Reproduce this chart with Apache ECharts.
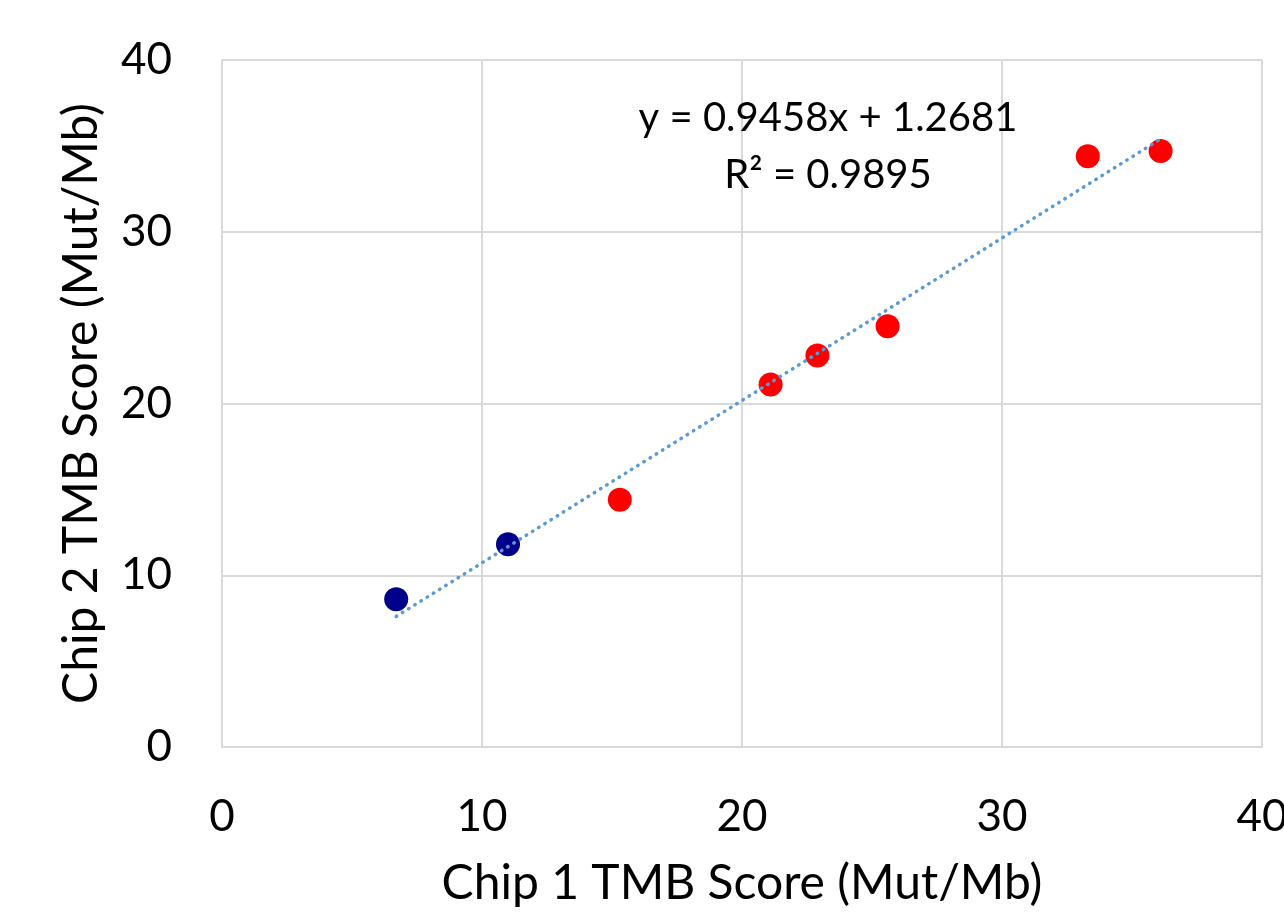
<!DOCTYPE html>
<html>
<head>
<meta charset="utf-8">
<script src="https://cdn.jsdelivr.net/npm/echarts@6/dist/echarts.min.js"></script>
<style>
  html, body { margin: 0; padding: 0; background: #fff; }
  #chart { width: 1284px; height: 915px; }
</style>
</head>
<body>
<div id="chart"></div>
<script>
// data
var bluePoints = [[6.7, 8.6], [11.0, 11.8]];
var redPoints = [[15.3, 14.4], [21.1, 21.1], [22.9, 22.8], [25.6, 24.5], [33.3, 34.4], [36.1, 34.7]];
var trendPoints = [[6.7, 7.6], [36.1, 35.4]];
var xTicks = [0, 10, 20, 30, 40];
var yTicks = [0, 10, 20, 30, 40];

var fontFam = 'Lato';
var myChart = echarts.init(document.getElementById('chart'));
var option = {
    animation: false,
    textStyle: { fontFamily: fontFam },
    grid: { left: 222, right: 22, top: 60, bottom: 168, outerBoundsMode: 'none', containLabel: false },
    graphic: [{
        type: 'text',
        x: 828, y: 147,
        z: 10,
        style: {
            text: 'y = 0.9458x + 1.2681\nR² = 0.9895',
            textAlign: 'center',
            textVerticalAlign: 'middle',
            font: '40px ' + fontFam,
            lineHeight: 57,
            fill: '#000'
        }
    }],
    xAxis: {
        type: 'value', min: 0, max: 40, interval: 10,
        name: 'Chip 1 TMB Score (Mut/Mb)',
        nameLocation: 'middle', nameGap: 113,
        nameTextStyle: { fontSize: 48, color: '#000' },
        axisLine: { show: true, lineStyle: { color: '#d9d9d9', width: 2 } },
        axisTick: { show: false },
        axisLabel: { fontSize: 44, color: '#000', margin: 48,
            formatter: function (v) { return xTicks.indexOf(v) >= 0 ? v : ''; } },
        splitLine: { show: true, lineStyle: { color: '#d9d9d9', width: 2 } }
    },
    yAxis: {
        type: 'value', min: 0, max: 40, interval: 10,
        name: 'Chip 2 TMB Score (Mut/Mb)',
        nameLocation: 'middle', nameGap: 116,
        nameTextStyle: { fontSize: 48, color: '#000' },
        axisLine: { show: true, lineStyle: { color: '#d9d9d9', width: 2 } },
        axisTick: { show: false },
        axisLabel: { fontSize: 44, color: '#000', margin: 50,
            formatter: function (v) { return yTicks.indexOf(v) >= 0 ? v : ''; } },
        splitLine: { show: true, lineStyle: { color: '#d9d9d9', width: 2 } }
    },
    series: [{
        type: 'line',
        data: trendPoints,
        symbol: 'none',
        z: 3,
        lineStyle: { color: '#5b9bd5', width: 3.5, type: [0.5, 6.8], cap: 'round' }
    }, {
        type: 'scatter',
        data: bluePoints,
        symbolSize: 24,
        z: 2,
        itemStyle: { color: '#00008b', opacity: 1 }
    }, {
        type: 'scatter',
        data: redPoints,
        symbolSize: 24,
        z: 2,
        itemStyle: { color: '#ff0000', opacity: 1 }
    }]
};
myChart.setOption(option);
</script>
</body>
</html>
